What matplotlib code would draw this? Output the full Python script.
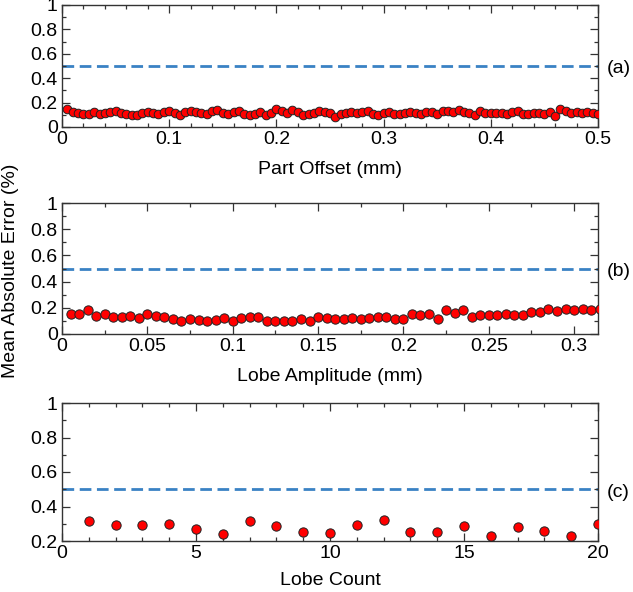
import matplotlib
matplotlib.use("Agg")
import matplotlib.pyplot as plt
from matplotlib.ticker import MultipleLocator, FuncFormatter
import numpy as np

plt.rcParams["font.family"] = ["Liberation Sans", "DejaVu Sans"]

# panel (a): part offset sweep
offset_mm = np.round(np.arange(1, 101) * 0.005, 3)
offset_err = [
    0.145, 0.122, 0.117, 0.110, 0.108, 0.123, 0.103, 0.113, 0.127, 0.132,
    0.115, 0.108, 0.100, 0.096, 0.115, 0.126, 0.113, 0.105, 0.127, 0.132,
    0.113, 0.096, 0.120, 0.130, 0.125, 0.112, 0.105, 0.128, 0.140, 0.115,
    0.108, 0.120, 0.134, 0.105, 0.098, 0.110, 0.125, 0.098, 0.112, 0.150,
    0.128, 0.118, 0.138, 0.126, 0.098, 0.105, 0.112, 0.130, 0.125, 0.112,
    0.085, 0.108, 0.112, 0.121, 0.115, 0.120, 0.128, 0.110, 0.098, 0.117,
    0.120, 0.105, 0.110, 0.115, 0.120, 0.113, 0.103, 0.120, 0.124, 0.110,
    0.130, 0.135, 0.125, 0.140, 0.120, 0.112, 0.102, 0.130, 0.118, 0.112,
    0.115, 0.115, 0.108, 0.120, 0.128, 0.110, 0.105, 0.112, 0.115, 0.108,
    0.125, 0.090, 0.150, 0.130, 0.112, 0.122, 0.118, 0.120, 0.115, 0.105,
]

# panel (b): lobe amplitude sweep
amplitude_mm = np.round(np.arange(1, 64) * 0.005, 3)
amplitude_err = [
    0.150, 0.152, 0.183, 0.135, 0.150, 0.128, 0.133, 0.140, 0.120, 0.152,
    0.135, 0.127, 0.113, 0.100, 0.118, 0.106, 0.100, 0.110, 0.122, 0.098,
    0.125, 0.127, 0.127, 0.102, 0.102, 0.100, 0.102, 0.117, 0.100, 0.127,
    0.122, 0.115, 0.112, 0.122, 0.117, 0.122, 0.127, 0.127, 0.112, 0.112,
    0.155, 0.148, 0.153, 0.117, 0.180, 0.160, 0.186, 0.130, 0.148, 0.148,
    0.148, 0.155, 0.148, 0.148, 0.168, 0.165, 0.188, 0.178, 0.188, 0.185,
    0.193, 0.180, 0.190,
]

# panel (c): lobe count sweep
lobe_count = list(range(1, 21))
count_err = [
    0.316, 0.292, 0.294, 0.298, 0.270, 0.241, 0.318, 0.286, 0.255, 0.245,
    0.290, 0.320, 0.253, 0.253, 0.288, 0.229, 0.284, 0.256, 0.229, 0.296,
]

threshold = 0.5

LINE_COLOR = "#3a82c4"
W, H = 633, 592
FS = 14


def tick_fmt(v, pos):
    return f"{v:g}"


def style_axes(ax, xmajor, xminor, ymajor, yminor):
    ax.xaxis.set_major_locator(MultipleLocator(xmajor))
    ax.xaxis.set_minor_locator(MultipleLocator(xminor))
    ax.yaxis.set_major_locator(MultipleLocator(ymajor))
    ax.yaxis.set_minor_locator(MultipleLocator(yminor))
    ax.xaxis.set_major_formatter(FuncFormatter(tick_fmt))
    ax.yaxis.set_major_formatter(FuncFormatter(tick_fmt))
    ax.tick_params(which="both", direction="in", top=True, right=True,
                   labelsize=FS, width=0.9, color="#333333")
    ax.tick_params(which="major", length=6, pad=3)
    ax.tick_params(which="minor", length=3)
    for s in ax.spines.values():
        s.set_linewidth(1.0)
        s.set_color("#333333")


def add_panel(fig, top, bottom, x, y, xlim, ylim, xlabel, tag, ms, ticks, pad):
    ax = fig.add_axes([62 / W, 1 - bottom / H, 536 / W, (bottom - top) / H])
    ax.axhline(threshold, color=LINE_COLOR, lw=2.0, ls=(0, (4.2, 2.0)), zorder=1)
    ax.plot(x, y, "o", ms=ms, mfc="#ff0000", mec="#222222", mew=0.7,
            clip_on=True, zorder=3)
    ax.set_xlim(*xlim)
    ax.set_ylim(*ylim)
    style_axes(ax, *ticks)
    ax.set_xlabel(xlabel, fontsize=FS, labelpad=pad)
    ax.text(1.017, threshold - 0.02, tag, transform=ax.get_yaxis_transform(),
            fontsize=FS, va="center", ha="left")
    return ax


fig = plt.figure(figsize=(W / 100, H / 100), dpi=100)

add_panel(fig, 5, 127, offset_mm, offset_err, (0, 0.5), (0, 1),
          "Part Offset (mm)", "(a)", 6.2, (0.1, 0.02, 0.2, 0.1), 9)
add_panel(fig, 203, 334, amplitude_mm, amplitude_err, (0, 0.314), (0, 1),
          "Lobe Amplitude (mm)", "(b)", 6.7, (0.05, 0.025, 0.2, 0.1), 9)
add_panel(fig, 403, 541, lobe_count, count_err, (0, 20), (0.2, 1),
          "Lobe Count", "(c)", 6.7, (5, 1, 0.2, 0.1), 7)

fig.text(11 / W, 1 - 271 / H, "Mean Absolute Error (%)", rotation=90,
         fontsize=FS, ha="center", va="center")

fig.savefig("out.png", dpi=100)
